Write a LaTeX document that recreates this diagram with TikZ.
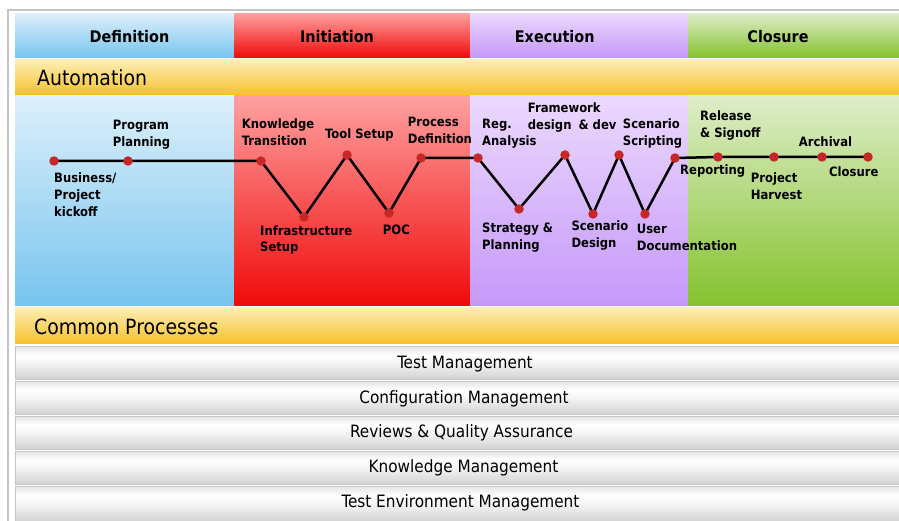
\documentclass[tikz,border=0pt]{standalone}
\usepackage{fontspec}
\setmainfont{DejaVu Sans Condensed}
\begin{document}
\pgfdeclarelayer{bg}
\pgfdeclarelayer{lines}
\pgfsetlayers{bg,lines,main}
\definecolor{defT}{HTML}{DDF0FB}\definecolor{defB}{HTML}{77C4EE}
\definecolor{iniT}{HTML}{FFA0A0}\definecolor{iniB}{HTML}{F00A0A}
\definecolor{exeT}{HTML}{ECD9FF}\definecolor{exeB}{HTML}{C598F8}
\definecolor{cloT}{HTML}{DEEDC8}\definecolor{cloB}{HTML}{85C22E}
\definecolor{barT}{HTML}{FDEEB5}\definecolor{barB}{HTML}{F6C12C}
\definecolor{dotred}{HTML}{C62828}
\definecolor{frame}{HTML}{C4C4C4}
\definecolor{rowTop}{HTML}{E4E4E4}
\definecolor{rowBot}{HTML}{D2D2D2}
\pgfdeclareverticalshading{rowshade}{100bp}{
  color(0bp)=(rowBot); color(25bp)=(rowBot); color(50bp)=(white!96!black);
  color(62bp)=(white); color(75bp)=(rowTop); color(100bp)=(rowTop)}
\tikzset{
  dot/.style={circle,fill=dotred,inner sep=0pt,minimum size=9.5pt},
  lbl/.style={inner sep=0pt,anchor=base west,align=left,font=\bfseries\fontsize{12.9}{17}\selectfont},
  hdr/.style={inner sep=0pt,anchor=base,font=\bfseries\fontsize{16}{18}\selectfont},
  bartxt/.style={inner sep=0pt,anchor=base west,font=\fontsize{21}{24}\selectfont},
  rowtxt/.style={inner sep=0pt,anchor=base,font=\fontsize{17}{20}\selectfont},
  rowbox/.style={shading=rowshade,draw=gray!45,line width=0.8pt},
  pathline/.style={line width=2.5pt,black,line join=round}
}
\begin{tikzpicture}[x=1pt,y=-1pt]
\useasboundingbox (0,0) rectangle (899,521);
\begin{pgfonlayer}{bg}
\fill[white] (0,0) rectangle (899,521);
\draw[frame,line width=2pt] (7.5,521) -- (7.5,10) -- (899,10);
% header row
\shade[top color=defT,bottom color=defB] (15,13.3) rectangle (234,57.7);
\shade[top color=iniT,bottom color=iniB] (234,13.3) rectangle (470,57.7);
\shade[top color=exeT,bottom color=exeB] (470,13.3) rectangle (688,57.7);
\shade[top color=cloT,bottom color=cloB] (688,13.3) rectangle (899,57.7);
% automation bar
\shade[top color=barT,bottom color=barB] (15,60) rectangle (899,95);
% content columns
\shade[top color=defT,bottom color=defB] (15,96) rectangle (234,305.5);
\shade[top color=iniT,bottom color=iniB] (234,96) rectangle (470,305.5);
\shade[top color=exeT,bottom color=exeB] (470,96) rectangle (688,305.5);
\shade[top color=cloT,bottom color=cloB] (688,96) rectangle (899,305.5);
% common processes bar
\shade[top color=barT,bottom color=barB] (15,307.7) rectangle (899,343.3);
% rows
\shade[rowbox] (15.5,346.5) rectangle (900,379);
\shade[rowbox] (15.5,381) rectangle (900,414);
\shade[rowbox] (15.5,416) rectangle (900,449);
\shade[rowbox] (15.5,451) rectangle (900,484);
\shade[rowbox] (15.5,486) rectangle (900,522);
\end{pgfonlayer}

% headers
\node[hdr] (hDef) at (129.5,42.7) {Definition};
\node[hdr] (hIni) at (337,42.7) {Initiation};
\node[hdr] (hExe) at (554.7,42.7) {Execution};
\node[hdr] (hClo) at (778,42.7) {Closure};
\node[bartxt] (hAuto) at (37,86) {Automation};
\node[bartxt] (hCommon) at (34,334.3) {Common Processes};

% rows text
\node[rowtxt] (r1) at (465,368.3) {Test Management};
\node[rowtxt] (r2) at (464,403.3) {Configuration Management};
\node[rowtxt] (r3) at (461.5,437.7) {Reviews \& Quality Assurance};
\node[rowtxt] (r4) at (463.5,472.7) {Knowledge Management};
\node[rowtxt] (r5) at (460.5,507.3) {Test Environment Management};

% dots
\node[dot] (d1) at (54,161) {};
\node[dot] (d2) at (128,161) {};
\node[dot] (d3) at (261,161) {};
\node[dot] (d4) at (304,217) {};
\node[dot] (d5) at (347,155) {};
\node[dot] (d6) at (389,213) {};
\node[dot] (d7) at (421,158) {};
\node[dot] (d8) at (478,158) {};
\node[dot] (d9) at (519,209) {};
\node[dot] (d10) at (565,155) {};
\node[dot] (d11) at (593,214) {};
\node[dot] (d12) at (619,155) {};
\node[dot] (d13) at (645,214) {};
\node[dot] (d14) at (675,158) {};
\node[dot] (d15) at (718,157) {};
\node[dot] (d16) at (774,157) {};
\node[dot] (d17) at (822,157) {};
\node[dot] (d18) at (868,157) {};

\begin{pgfonlayer}{lines}
\draw[pathline] (d1.center) -- (d2.center) -- (d3.center) -- (d4.center) -- (d5.center) -- (d6.center) -- (d7.center) -- (d8.center) -- (d9.center) -- (d10.center) -- (d11.center) -- (d12.center) -- (d13.center) -- (d14.center) -- (d15.center) -- (d16.center) -- (d17.center) -- (d18.center);
\end{pgfonlayer}

% labels (anchor = baseline of the last line)
\node[lbl] (l1) at (54,217) {Business/\\Project\\kickoff};
\node[lbl] (l2) at (112.7,147) {Program\\Planning};
\node[lbl] (l3) at (241.7,146) {Knowledge\\Transition};
\node[lbl] (l4) at (260,252) {Infrastructure\\Setup};
\node[lbl] (l5) at (325,139) {Tool Setup};
\node[lbl] (l6) at (382.7,235) {POC};
\node[lbl] (l7) at (407.7,144) {Process\\Definition};
\node[lbl] (l8) at (482,146) {Reg.\\Analysis};
\node[lbl] (l9) at (482,250) {Strategy \&\\Planning};
\node[lbl] (l10) at (527.7,129.3) {Framework\\design\hspace{7pt}\& dev};
\node[lbl] (l11) at (571.3,247.7) {Scenario\\Design};
\node[lbl] (l12) at (622.7,146) {Scenario\\Scripting};
\node[lbl] (l13) at (636.7,250.7) {User\\Documentation};
\node[lbl] (l14) at (680,175) {Reporting};
\node[lbl] (l15) at (700,137.7) {Release\\\& Signoff};
\node[lbl] (l16) at (750.7,200) {Project\\Harvest};
\node[lbl] (l17) at (798.7,146.7) {Archival};
\node[lbl] (l18) at (829,176.7) {Closure};
\end{tikzpicture}
\end{document}
